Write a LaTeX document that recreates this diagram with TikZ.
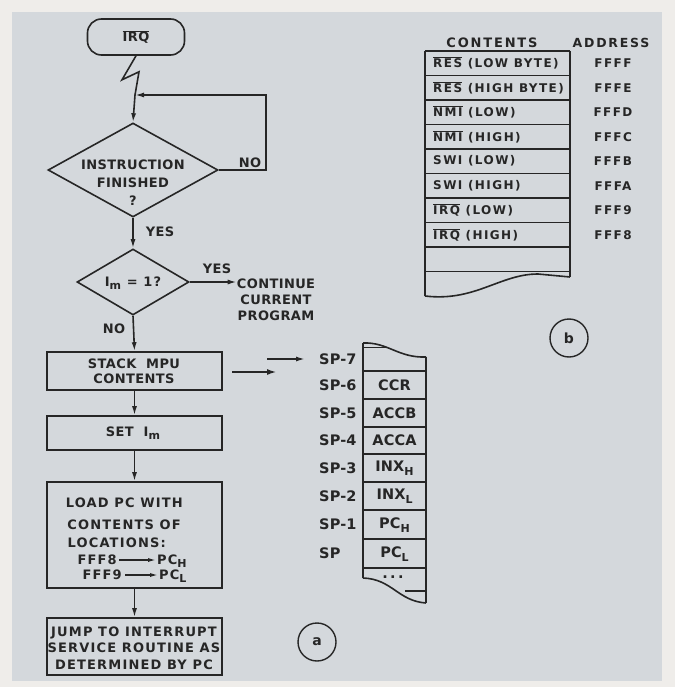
\documentclass[tikz,border=0pt]{standalone}
\usepackage{fontspec}
\usetikzlibrary{shapes.geometric,arrows.meta}
\newfontfamily\ff{DejaVu Sans Bold}[LetterSpace=3]
\newfontfamily\fw{DejaVu Sans Bold}[LetterSpace=9]
\newfontfamily\fs{DejaVu Sans Bold}[LetterSpace=1]
\newfontfamily\fh{DejaVu Sans Bold}[LetterSpace=14]
\newfontfamily\ft{DejaVu Sans Bold}[LetterSpace=12]
\definecolor{paper}{HTML}{EFEDEA}
\definecolor{bg}{HTML}{D4D8DC}
\definecolor{ink}{HTML}{262626}
\newcommand\ovl[1]{\ensuremath{\overline{\mbox{#1}}}}
\newcommand\sbs[1]{\raisebox{-0.45ex}{\fontsize{11}{11}\selectfont #1}}
\tikzset{
  line/.style={draw=ink, line width=1.6pt},
  arr/.style={line, -{Latex[length=9pt,width=5pt]}},
  box/.style={line, rectangle, inner sep=0pt, minimum width=175},
  txt/.style={font=\ff\fontsize{13}{16}\selectfont, text=ink, align=center, inner sep=0pt},
  wtxt/.style={txt, font=\fw\fontsize{13}{16.5}\selectfont},
  ttxt/.style={font=\ft\fontsize{12}{14}\selectfont, text=ink, inner sep=0pt},
  htxt/.style={font=\fh\fontsize{13}{15}\selectfont, text=ink, inner sep=0pt},
  stxt/.style={font=\fs\fontsize{14.5}{16}\selectfont, text=ink, inner sep=0pt},
  ring/.style={draw=ink, line width=1.4pt, circle, minimum size=38, inner sep=0pt, font=\ff\fontsize{14}{16}\selectfont, text=ink},
}
\begin{document}
\begin{tikzpicture}[x=1pt,y=-1pt]
\useasboundingbox (0,0) rectangle (675,687);
\fill[paper] (0,0) rectangle (675,687);
\fill[bg] (12,12) rectangle (662,681);

% ---------- flowchart (a) ----------
\node[line, rectangle, rounded corners=14, minimum width=97, minimum height=36, inner sep=0pt, txt] (irq) at (136,37) {\ovl{IRQ}};
\coordinate (j1) at (135,95);
\coordinate (fb) at (266,95);
\draw[line] (irq.south) -- ++(-14,24) -- ++(17,-8) -- (j1);
\node[line, diamond, minimum width=170, minimum height=94, inner sep=0pt] (d1) at (133,170) {};
\node[txt, font=\ff\fontsize{13}{18}\selectfont] (d1t) at (133,183) {INSTRUCTION\\FINISHED\\?};
\draw[arr] (j1) -- (d1.north);
\draw[arr] (d1.east) -| (fb) -- (j1);
\node[txt] (no1) at (250,163) {NO};

\node[line, diamond, minimum width=112, minimum height=66, inner sep=0pt] (d2) at (133,282) {};
\node[wtxt] (d2t) at (133,283) {I\sbs{m} = 1?};
\draw[arr] (d1.south) -- (d2.north);
\node[txt] (yes1) at (160,232) {YES};

\node[txt] (cont) at (276,300) {CONTINUE\\CURRENT\\PROGRAM};
\draw[arr] (d2.east) -- (cont.west |- d2.east);
\node[txt] (yes2) at (217,269) {YES};

\node[box, minimum height=38] (stack) at (134.5,371) {};
\node[txt, font=\ff\fontsize{13}{15}\selectfont] (stackt) at (134,371) {STACK\ \ MPU\\CONTENTS};
\draw[arr] (d2.south) -- (stack.north);
\node[txt] (no2) at (114,329) {NO};

\node[box, minimum height=34] (set) at (134.5,433) {};
\node[txt] (sett) at (133,433) {SET\ \ I\sbs{m}};
\draw[arr] (stack) -- (set);

\node[box, minimum height=106] (load) at (134.5,535) {};
\node[wtxt, anchor=east] (l1) at (183,503) {LOAD\ PC\ WITH};
\node[wtxt, anchor=east] (l2) at (181,525) {CONTENTS\ OF};
\node[wtxt, anchor=east] (l3) at (166,543) {LOCATIONS:};
\node[wtxt, anchor=east] (f8) at (117,560) {FFF8};
\node[wtxt, anchor=west] (pch) at (157,561) {PC\sbs{H}};
\node[wtxt, anchor=east] (f9) at (122,575) {FFF9};
\node[wtxt, anchor=west] (pcl) at (159,576) {PC\sbs{L}};
\draw[line, -{Latex[length=9pt,width=4pt]}] (f8.east |- 0,560) ++(2,0) -- (pch.west |- 0,560);
\draw[line, -{Latex[length=9pt,width=4pt]}] (f9.east |- 0,575) ++(3,0) -- (pcl.west |- 0,575);
\draw[arr] (set) -- (load);

\node[box, minimum height=57] (jump) at (134.5,646.5) {};
\node[wtxt] (jumpt) at (134,648) {JUMP TO INTERRUPT\\SERVICE ROUTINE AS\\DETERMINED BY PC};
\draw[arr] (load) -- (jump);

\node[ring] (ca) at (317,642) {a};

% ---------- stack ----------
\coordinate (s1) at (232,372);
\coordinate (s2) at (277,372);
\coordinate (t1) at (267,359);
\coordinate (t2) at (305,359);
\draw[line, line width=2.4pt, -{Latex[length=10pt,width=6pt]}] (s1) -- (s2);
\draw[arr] (t1) -- (t2);

\draw[line] (363,343) -- (363,578);
\draw[line] (426,357) -- (426,603);
\draw[line] (363,343) .. controls (388,342) and (398,358) .. (426,357);
\draw[line] (363,347.5) -- (386,347.5);
\foreach \yy in {371,399,427,454,482,510,539,568}
  \draw[line] (363,\yy) -- (426,\yy);
\draw[line] (363,578) .. controls (392,579) and (398,601) .. (426,603);
\draw[line] (405,591) -- (426,591);

\foreach \nm/\lab/\yy in {p7/SP-7/359, p6/SP-6/385, p5/SP-5/413, p4/SP-4/440, p3/SP-3/468, p2/SP-2/496, p1/SP-1/524, p0/SP/553}
  \node[stxt, anchor=west] (\nm) at (319,\yy) {\lab};

\node[stxt] (ccr) at (394.5,385) {CCR};
\node[stxt] (accb) at (394.5,413) {ACCB};
\node[stxt] (acca) at (394.5,440) {ACCA};
\node[stxt] (inxh) at (394.5,468) {INX\sbs{H}};
\node[stxt] (inxl) at (394.5,496) {INX\sbs{L}};
\node[stxt] (pch2) at (394.5,525) {PC\sbs{H}};
\node[stxt] (pcl2) at (394.5,554) {PC\sbs{L}};
\node[stxt] (dots) at (393,577) {.\,.\,.};

% ---------- vector table (b) ----------
\node[htxt] (hc) at (492,43) {CONTENTS};
\node[htxt, font=\fh\fontsize{12.5}{15}\selectfont] (ha) at (611,43) {ADDRESS};
\foreach \yy in {51,75.5,100,124.5,149,173.5,198,222.5,247,271.5}
  \draw[line] (425,\yy) -- (570,\yy);
\draw[line] (425,51) -- (425,296);
\draw[line] (570,51) -- (570,277);
\draw[line] (425,296) .. controls (475,302) and (500,274) .. (538,274) -- (570,277);

\foreach \nm/\lab/\ad/\yy in {
  r1/{\ovl{RES} (LOW BYTE)}/FFFF/63,
  r2/{\ovl{RES} (HIGH BYTE)}/FFFE/88,
  r3/{\ovl{NMI} (LOW)}/FFFD/112,
  r4/{\ovl{NMI} (HIGH)}/FFFC/137,
  r5/{SWI (LOW)}/FFFB/161,
  r6/{SWI (HIGH)}/FFFA/186,
  r7/{\ovl{IRQ} (LOW)}/FFF9/210,
  r8/{\ovl{IRQ} (HIGH)}/FFF8/235}{
  \node[ttxt, anchor=west] (\nm) at (433,\yy) {\lab};
  \node[ttxt] (\nm a) at (613,\yy) {\ad};
}

\node[ring] (cb) at (569,338) {b};
\end{tikzpicture}
\end{document}
